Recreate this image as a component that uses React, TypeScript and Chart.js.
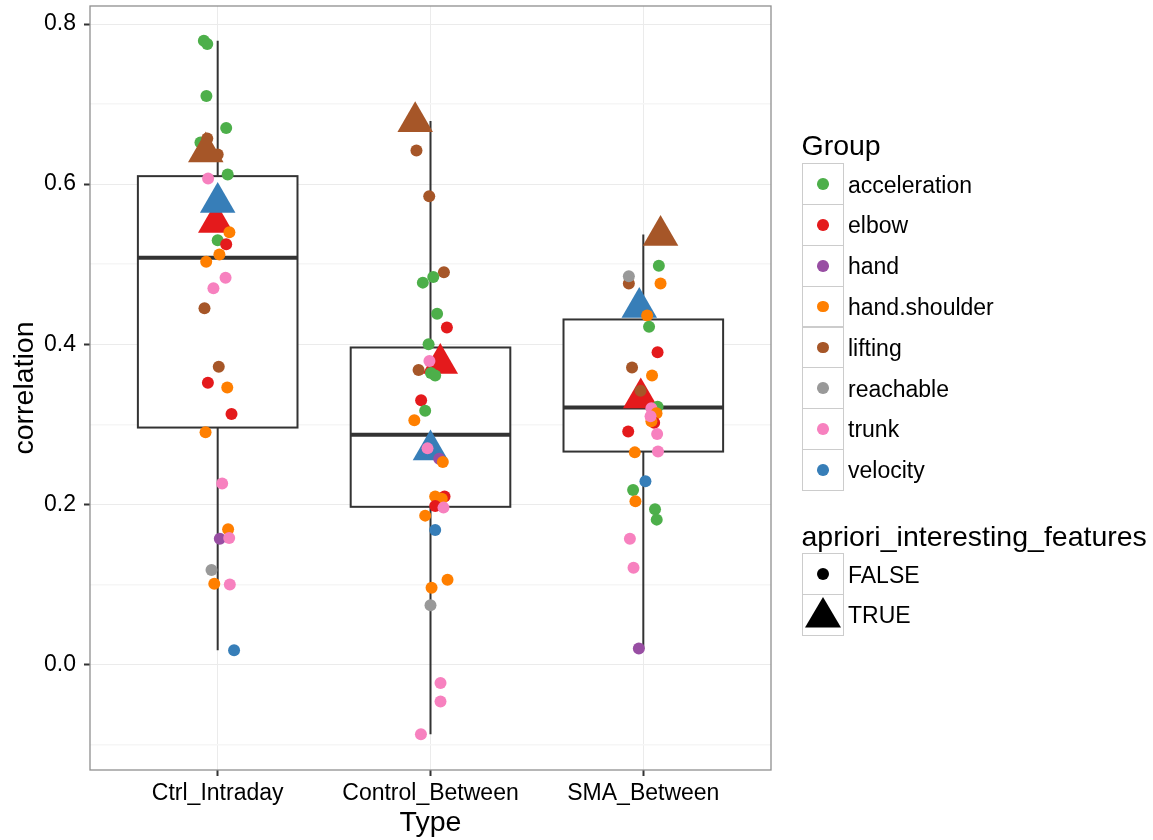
import React, { useEffect, useRef } from "react";
import { Chart, registerables } from "chart.js";

Chart.register(...registerables);

// ---------- data ----------
const typeLabels = ["Ctrl_Intraday", "Control_Between", "SMA_Between"];

const groupNames = ["acceleration", "elbow", "hand", "hand.shoulder", "lifting", "reachable", "trunk", "velocity"];
const groupPalette = ["#4DAF4A", "#E41A1C", "#984EA3", "#FF7F00", "#A65628", "#999999", "#F781BF", "#377EB8"];

const aprioriLabels = ["FALSE", "TRUE"];

const yTickValues = [-0.1, 0, 0.1, 0.2, 0.3, 0.4, 0.5, 0.6, 0.7, 0.8];
const yTickLabels = ["", "0.0", "", "0.2", "", "0.4", "", "0.6", "", "0.8"];

// boxplot statistics per Type
const boxLow = [0.018, -0.087, 0.019];
const boxQ1 = [0.296, 0.197, 0.266];
const boxMedian = [0.508, 0.287, 0.321];
const boxQ3 = [0.610, 0.396, 0.431];
const boxHigh = [0.779, 0.679, 0.537];

// Ctrl_Intraday points
const ctrlIntradayGroup = [
  "acceleration", "lifting", "lifting", "lifting", "elbow", "velocity",
  "acceleration", "acceleration", "acceleration", "acceleration", "acceleration", "trunk",
  "hand.shoulder", "acceleration", "elbow", "hand.shoulder", "hand.shoulder", "trunk",
  "trunk", "lifting", "lifting", "elbow", "hand.shoulder", "elbow",
  "hand.shoulder", "trunk", "hand.shoulder", "hand", "trunk", "reachable",
  "hand.shoulder", "trunk", "velocity",
];
const ctrlIntradayValue = [
  0.652, 0.657, 0.637, 0.640, 0.552, 0.577,
  0.779, 0.775, 0.710, 0.670, 0.612, 0.607,
  0.540, 0.530, 0.525, 0.512, 0.503, 0.483,
  0.470, 0.445, 0.372, 0.352, 0.346, 0.313,
  0.290, 0.226, 0.169, 0.157, 0.158, 0.118,
  0.101, 0.100, 0.018,
];
const ctrlIntradayApriori = [
  false, false, false, true, true, true,
  false, false, false, false, false, false,
  false, false, false, false, false, false,
  false, false, false, false, false, false,
  false, false, false, false, false, false,
  false, false, false,
];
const ctrlIntradayJitter = [
  -0.081, -0.049, 0.0, -0.056, -0.009, 0.0,
  -0.065, -0.049, -0.053, 0.040, 0.047, -0.045,
  0.055, 0.0, 0.040, 0.008, -0.054, 0.037,
  -0.020, -0.062, 0.005, -0.046, 0.045, 0.065,
  -0.057, 0.021, 0.049, 0.010, 0.054, -0.029,
  -0.016, 0.057, 0.077,
];

// Control_Between points
const controlBetweenGroup = [
  "lifting", "elbow", "velocity", "lifting", "lifting", "lifting",
  "acceleration", "acceleration", "acceleration", "elbow", "acceleration", "trunk",
  "lifting", "acceleration", "acceleration", "elbow", "acceleration", "hand.shoulder",
  "trunk", "hand", "hand.shoulder", "elbow", "hand.shoulder", "hand.shoulder",
  "elbow", "trunk", "hand.shoulder", "velocity", "hand.shoulder", "hand.shoulder",
  "reachable", "trunk", "trunk", "trunk",
];
const controlBetweenValue = [
  0.678, 0.376, 0.268, 0.642, 0.585, 0.490,
  0.484, 0.477, 0.438, 0.421, 0.400, 0.379,
  0.368, 0.364, 0.361, 0.330, 0.317, 0.305,
  0.270, 0.257, 0.253, 0.210, 0.210, 0.207,
  0.198, 0.196, 0.186, 0.168, 0.106, 0.096,
  0.074, -0.023, -0.046, -0.087,
];
const controlBetweenApriori = [
  true, true, true, false, false, false,
  false, false, false, false, false, false,
  false, false, false, false, false, false,
  false, false, false, false, false, false,
  false, false, false, false, false, false,
  false, false, false, false,
];
const controlBetweenJitter = [
  -0.072, 0.046, 0.0, -0.066, -0.006, 0.063,
  0.013, -0.036, 0.031, 0.077, -0.009, -0.005,
  -0.056, 0.002, 0.022, -0.044, -0.025, -0.076,
  -0.014, 0.041, 0.058, 0.066, 0.022, 0.053,
  0.022, 0.061, -0.025, 0.022, 0.080, 0.005,
  0.0, 0.047, 0.047, -0.045,
];

// SMA_Between points
const smaBetweenGroup = [
  "lifting", "velocity", "elbow", "acceleration", "lifting", "reachable",
  "hand.shoulder", "hand.shoulder", "acceleration", "elbow", "lifting", "hand.shoulder",
  "lifting", "acceleration", "trunk", "hand.shoulder", "elbow", "hand.shoulder",
  "trunk", "elbow", "trunk", "hand.shoulder", "trunk", "velocity",
  "acceleration", "hand.shoulder", "acceleration", "acceleration", "trunk", "trunk",
  "hand",
];
const smaBetweenValue = [
  0.536, 0.446, 0.333, 0.498, 0.476, 0.485,
  0.476, 0.436, 0.422, 0.390, 0.371, 0.361,
  0.342, 0.322, 0.320, 0.314, 0.302, 0.304,
  0.310, 0.291, 0.288, 0.265, 0.266, 0.229,
  0.218, 0.204, 0.194, 0.181, 0.157, 0.121,
  0.020,
];
const smaBetweenApriori = [
  true, true, true, false, false, false,
  false, false, false, false, false, false,
  false, false, false, false, false, false,
  false, false, false, false, false, false,
  false, false, false, false, false, false,
  false,
];
const smaBetweenJitter = [
  0.081, -0.019, -0.012, 0.073, -0.068, -0.068,
  0.081, 0.018, 0.027, 0.067, -0.053, 0.041,
  -0.013, 0.067, 0.038, 0.062, 0.051, 0.038,
  0.034, -0.071, 0.065, -0.040, 0.069, 0.010,
  -0.048, -0.037, 0.055, 0.063, -0.063, -0.046,
  -0.021,
];

const typeSeries = [
  { group: ctrlIntradayGroup, value: ctrlIntradayValue, apriori: ctrlIntradayApriori, jitter: ctrlIntradayJitter },
  { group: controlBetweenGroup, value: controlBetweenValue, apriori: controlBetweenApriori, jitter: controlBetweenJitter },
  { group: smaBetweenGroup, value: smaBetweenValue, apriori: smaBetweenApriori, jitter: smaBetweenJitter },
];

// ---------- styling ----------
const FONT = "'Liberation Sans', Arimo, Arial, Helvetica, sans-serif";
const BOX_HALF = 0.375;
const TICK_SIZE = 23;
const TITLE_SIZE = 28.5;

const zeroPadding = () => ({ left: 0, top: 0, right: 0, bottom: 0 });

const boxPlugin = {
  id: "boxes",
  beforeDatasetsDraw(chart: any) {
    const { ctx, scales } = chart;
    const x = scales.x;
    const y = scales.y;
    ctx.save();
    ctx.strokeStyle = "#333333";
    for (let i = 0; i < typeLabels.length; i++) {
      const cx = x.getPixelForValue(i + 1);
      const l = x.getPixelForValue(i + 1 - BOX_HALF);
      const r = x.getPixelForValue(i + 1 + BOX_HALF);
      const pLow = y.getPixelForValue(boxLow[i]);
      const pQ1 = y.getPixelForValue(boxQ1[i]);
      const pMed = y.getPixelForValue(boxMedian[i]);
      const pQ3 = y.getPixelForValue(boxQ3[i]);
      const pHigh = y.getPixelForValue(boxHigh[i]);
      ctx.lineWidth = 2;
      ctx.beginPath();
      ctx.moveTo(cx, pHigh);
      ctx.lineTo(cx, pQ3);
      ctx.moveTo(cx, pQ1);
      ctx.lineTo(cx, pLow);
      ctx.stroke();
      ctx.fillStyle = "#ffffff";
      ctx.fillRect(l, pQ3, r - l, pQ1 - pQ3);
      ctx.strokeRect(l, pQ3, r - l, pQ1 - pQ3);
      ctx.lineWidth = 4;
      ctx.beginPath();
      ctx.moveTo(l, pMed);
      ctx.lineTo(r, pMed);
      ctx.stroke();
    }
    ctx.restore();
  },
  afterDatasetsDraw(chart: any) {
    const { ctx, chartArea } = chart;
    ctx.save();
    ctx.strokeStyle = "#8f8f8f";
    ctx.lineWidth = 1.3;
    ctx.strokeRect(chartArea.left, chartArea.top, chartArea.right - chartArea.left, chartArea.bottom - chartArea.top);
    ctx.restore();
  },
};

function Legend() {
  const rowH = 40.8;
  const groupTop = 163.3;
  const aprTop = 553.3;
  const keyStyle = (top: number): React.CSSProperties => ({
    position: "absolute",
    left: 801.5,
    top,
    width: 42.5,
    height: rowH + 1,
    border: "1.5px solid #cccccc",
    boxSizing: "border-box",
    background: "#fff",
  });
  const textStyle = (baseline: number, size: number, left: number): React.CSSProperties => ({
    position: "absolute",
    left,
    top: baseline - 0.8465 * size,
    fontSize: size,
    lineHeight: 1,
    whiteSpace: "nowrap",
    color: "#000",
    fontFamily: FONT,
  });
  return (
    <>
      <div style={textStyle(155.5, TITLE_SIZE, 801.5)}>Group</div>
      {groupNames.map((g, i) => {
        const top = groupTop + i * rowH;
        return (
          <React.Fragment key={g}>
            <div style={keyStyle(top)} />
            <div
              style={{
                position: "absolute",
                left: 822.8 - 5.8,
                top: top + rowH / 2 - 5.8 + 0.5,
                width: 11.6,
                height: 11.6,
                borderRadius: "50%",
                background: groupPalette[i],
              }}
            />
            <div style={textStyle(top + rowH / 2 + 9.3, TICK_SIZE, 848)}>{g}</div>
          </React.Fragment>
        );
      })}
      <div style={textStyle(546, TITLE_SIZE, 801.5)}>apriori_interesting_features</div>
      {aprioriLabels.map((a, i) => {
        const top = aprTop + i * rowH;
        return (
          <React.Fragment key={a}>
            <div style={keyStyle(top)} />
            {i === 0 ? (
              <div
                style={{
                  position: "absolute",
                  left: 822.8 - 6,
                  top: top + rowH / 2 - 6 + 0.5,
                  width: 12,
                  height: 12,
                  borderRadius: "50%",
                  background: "#000",
                }}
              />
            ) : (
              <svg
                style={{ position: "absolute", left: 804.8, top: top + 2.5 }}
                width={36}
                height={31}
                viewBox="0 0 36 31"
              >
                <polygon points="18,0 36,30.5 0,30.5" fill="#000" />
              </svg>
            )}
            <div style={textStyle(top + rowH / 2 + 9.3, TICK_SIZE, 848)}>{a}</div>
          </React.Fragment>
        );
      })}
    </>
  );
}

export default function App() {
  const canvasRef = useRef<HTMLCanvasElement>(null);

  useEffect(() => {
    const canvas = canvasRef.current;
    if (!canvas) return;
    const datasets = typeSeries.map((s, ti) => ({
      label: typeLabels[ti],
      data: s.value.map((v, i) => ({ x: ti + 1 + s.jitter[i], y: v })),
      pointStyle: s.apriori.map((a) => (a ? "triangle" : "circle")),
      pointRadius: s.apriori.map((a) => (a ? 20.5 : 6)),
      pointHoverRadius: s.apriori.map((a) => (a ? 20.5 : 6)),
      pointBackgroundColor: s.group.map((g) => groupPalette[groupNames.indexOf(g)]),
      pointBorderWidth: 0,
      showLine: false,
    }));

    const chart = new Chart(canvas, {
      type: "scatter",
      data: { datasets },
      plugins: [boxPlugin],
      options: {
        animation: false,
        responsive: false,
        devicePixelRatio: 1,
        layout: { autoPadding: false, padding: { left: 0, top: 6, right: 382, bottom: 0 } },
        plugins: { legend: { display: false }, tooltip: { enabled: false } },
        font: { family: FONT },
        scales: {
          x: {
            type: "linear",
            min: 0.4,
            max: 3.6,
            afterBuildTicks: (s: any) => {
              s.ticks = typeLabels.map((_, i) => ({ value: i + 1 }));
            },
            afterFit: (s: any) => {
              s.height = 70;
              s.paddingLeft = 0;
              s.paddingRight = 0;
              s.paddingTop = 0;
              s.paddingBottom = 0;
              s.getPadding = zeroPadding;
            },
            ticks: {
              autoSkip: false,
              maxRotation: 0,
              minRotation: 0,
              padding: 4,
              color: "#000",
              font: { family: FONT, size: TICK_SIZE },
              callback: (_v: any, i: number) => typeLabels[i],
            },
            grid: {
              color: "#ebebeb",
              lineWidth: 1,
              tickColor: "#333333",
              tickLength: 6,
              tickWidth: 2,
            },
            border: { display: false },
            title: {
              display: true,
              text: "Type",
              color: "#000",
              font: { family: FONT, size: TITLE_SIZE },
              padding: { top: 0, bottom: 0 },
            },
          },
          y: {
            type: "linear",
            min: -0.1317,
            max: 0.8225,
            afterBuildTicks: (s: any) => {
              s.ticks = yTickValues.map((v) => ({ value: v }));
            },
            afterFit: (s: any) => {
              s.width = 90;
              s.paddingTop = 0;
              s.paddingBottom = 0;
              s.paddingLeft = 0;
              s.paddingRight = 0;
              s.getPadding = zeroPadding;
            },
            ticks: {
              autoSkip: false,
              padding: 8,
              color: "#000",
              font: { family: FONT, size: TICK_SIZE },
              callback: (_v: any, i: number) => yTickLabels[i],
            },
            grid: {
              color: (c: any) => (yTickLabels[c.index] ? "#ebebeb" : "#f6f6f6"),
              lineWidth: (c: any) => (yTickLabels[c.index] ? 1 : 1.5),
              tickColor: (c: any) => (yTickLabels[c.index] ? "#333333" : "rgba(0,0,0,0)"),
              tickLength: 6,
              tickWidth: 2,
            },
            border: { display: false },
            title: {
              display: true,
              text: "correlation",
              color: "#000",
              font: { family: FONT, size: TITLE_SIZE },
              padding: { top: 8, bottom: 0 },
            },
          },
        },
      } as any,
    });
    return () => chart.destroy();
  }, []);

  return (
    <div
      style={{
        position: "absolute",
        left: 0,
        top: 0,
        width: 1153,
        height: 840,
        background: "#fff",
        fontFamily: FONT,
        overflow: "hidden",
      }}
    >
      <canvas ref={canvasRef} width={1153} height={840} style={{ position: "absolute", left: 0, top: 0, width: 1153, height: 840 }} />
      <Legend />
    </div>
  );
}
